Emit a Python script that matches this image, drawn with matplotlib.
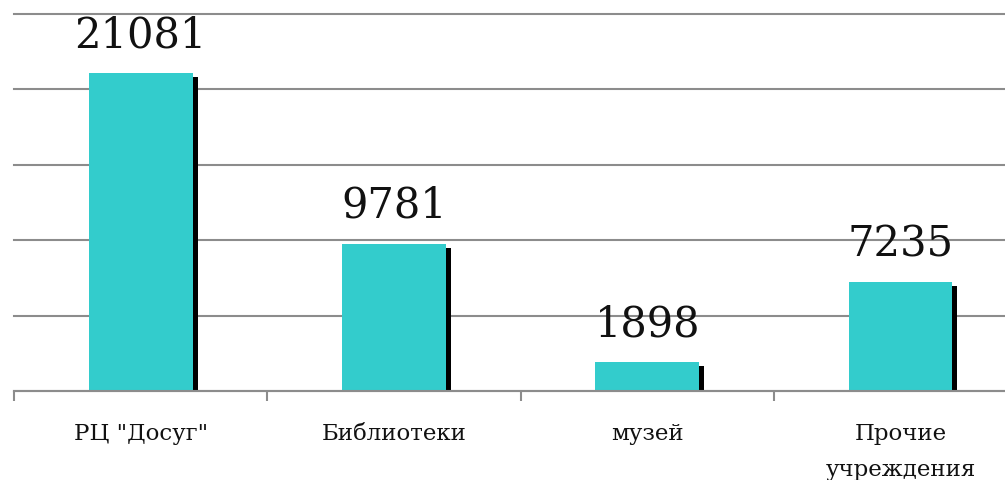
import matplotlib.pyplot as plt
import numpy as np

# Посещаемость по типам учреждений
categories = ['РЦ "Досуг"', 'Библиотеки', 'музей', 'Прочие\nучреждения']
values = [21081, 9781, 1898, 7235]
grid_levels = [0, 5000, 10000, 15000, 20000, 25000]

bar_color = '#33CCCC'
grid_color = '#8c8c8c'

plt.rcParams['font.family'] = ['DejaVu Serif']

fig = plt.figure(figsize=(10.05, 4.8), dpi=100)
# ось выходит за правый край, как в исходном макете
ax = fig.add_axes([14 / 1005, 1 - 391 / 480, 4 * 253.3 / 1005, 377 / 480])

x = np.arange(len(categories))
width = 0.41
dx = 5 / 253.3          # сдвиг тени вправо
dy = 4 * 25000 / 377    # сдвиг тени вниз

ax.bar(x + dx, np.array(values) - dy, width=width, color='black', zorder=2)
ax.bar(x, values, width=width, color=bar_color, zorder=3)

for xi, v in zip(x, values):
    ax.annotate(str(v), (xi, v), xytext=(0, 18.5), textcoords='offset points',
                ha='center', va='baseline', fontsize=30, color='#111111', zorder=4)

ax.set_xlim(-0.5, len(categories) - 0.5)
ax.set_ylim(0, 25000)
ax.set_yticks(grid_levels)
ax.yaxis.grid(True, color=grid_color, linewidth=1.5, zorder=0)
for gl in ax.get_ygridlines():
    gl.set_clip_on(False)
ax.tick_params(axis='y', length=0, labelleft=False)

ax.set_xticks(x)
ax.set_xticklabels(categories, fontsize=16.5, linespacing=1.8, color='#111111')
ax.tick_params(axis='x', which='major', length=0, pad=23)
ax.set_xticks(np.arange(len(categories)) - 0.5, minor=True)
ax.tick_params(axis='x', which='minor', length=7, width=1.5, color=grid_color)

for side in ['top', 'right', 'left']:
    ax.spines[side].set_visible(False)
ax.spines['bottom'].set_color(grid_color)
ax.spines['bottom'].set_linewidth(1.5)
ax.spines['bottom'].set_zorder(5)

fig.savefig('out.png', dpi=100)
